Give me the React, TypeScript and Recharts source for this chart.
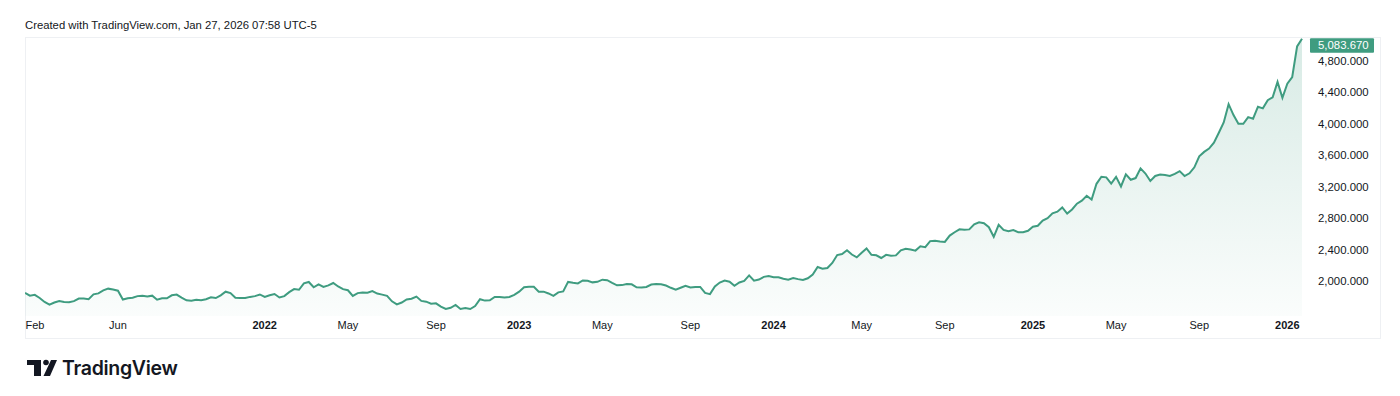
import { AreaChart, Area, XAxis, YAxis } from 'recharts';

// weekly closes, first bar = week of 2021-01-25
const START_WEEK = Date.UTC(2021, 0, 25);

const gold2021 = [
  1848, 1814, 1824, 1784, 1734, 1700, 1727, 1745, 1733, 1729, 1744, 1777, 1777, 1769, 1831, 1843,
  1881, 1903, 1891, 1877, 1764, 1781, 1787, 1808, 1812, 1802, 1814, 1763, 1780, 1781, 1818, 1827,
  1788, 1754, 1750, 1761, 1757, 1768, 1793, 1783, 1818, 1864, 1846, 1788, 1783, 1783, 1798, 1808,
  1829,
];
const gold2022 = [
  1797, 1818, 1835, 1791, 1808, 1859, 1898, 1889, 1970, 1988, 1921, 1958, 1925, 1945, 1975, 1931,
  1897, 1883, 1811, 1846, 1853, 1851, 1871, 1840, 1827, 1811, 1742, 1703, 1727, 1766, 1775, 1802,
  1747, 1737, 1712, 1716, 1675, 1644, 1660, 1695, 1644, 1657, 1644, 1681, 1769, 1751, 1754, 1797,
  1797, 1792, 1798, 1824,
];
const gold2023 = [
  1865, 1920, 1926, 1928, 1865, 1865, 1842, 1811, 1856, 1868, 1989, 1978, 1969, 2007, 2004, 1983,
  1990, 2017, 2011, 1977, 1946, 1948, 1961, 1958, 1921, 1919, 1925, 1955, 1962, 1959, 1943, 1914,
  1889, 1914, 1940, 1919, 1924, 1925, 1848, 1833, 1932, 1981, 2006, 1992, 1940, 1981, 2002, 2072,
  2004, 2019, 2053, 2063,
];
const gold2024 = [
  2049, 2049, 2029, 2018, 2039, 2024, 2013, 2035, 2083, 2179, 2156, 2165, 2230, 2330, 2344, 2392,
  2337, 2301, 2360, 2415, 2334, 2327, 2293, 2333, 2321, 2326, 2391, 2411, 2400, 2387, 2443, 2431,
  2508, 2512, 2503, 2497, 2578, 2621, 2658, 2653, 2657, 2721, 2747, 2736, 2685, 2563, 2716, 2650,
  2633, 2648, 2622, 2621, 2640,
];
const gold2025 = [
  2690, 2703, 2770, 2800, 2861, 2882, 2936, 2858, 2910, 2984, 3022, 3085, 3037, 3237, 3327, 3319,
  3240, 3325, 3203, 3357, 3289, 3310, 3433, 3368, 3273, 3337, 3355, 3350, 3336, 3363, 3398, 3336,
  3371, 3447, 3586, 3643, 3685, 3760, 3886, 4018, 4251, 4112, 4002, 4000, 4085, 4065, 4218, 4197,
  4300, 4338, 4533, 4332,
];
const gold2026 = [4510, 4596, 4985, 5083.67];

const monthTicks: [string, string][] = [
  ['2021-02-01', 'Feb'], ['2021-06-01', 'Jun'], ['2022-01-01', '2022'], ['2022-05-01', 'May'],
  ['2022-09-01', 'Sep'], ['2023-01-01', '2023'], ['2023-05-01', 'May'], ['2023-09-01', 'Sep'],
  ['2024-01-01', '2024'], ['2024-05-01', 'May'], ['2024-09-01', 'Sep'], ['2025-01-01', '2025'],
  ['2025-05-01', 'May'], ['2025-09-01', 'Sep'], ['2026-01-01', '2026'],
];
const priceTicks = [2000, 2400, 2800, 3200, 3600, 4000, 4400, 4800];

const closes = [...gold2021, ...gold2022, ...gold2023, ...gold2024, ...gold2025, ...gold2026];
const data = closes.map((v, i) => ({
  i,
  date: new Date(START_WEEK + i * 7 * 86400000).toISOString().slice(0, 10),
  v,
}));
const last = closes[closes.length - 1];

const xTicks = monthTicks.map(([d, label]) => ({ i: data.findIndex((r) => r.date >= d), label }));
const xLabel: Record<number, string> = {};
xTicks.forEach((t) => (xLabel[t.i] = t.label));

const GREEN = '#3f9c80';
const FONT = '"Liberation Sans", Arial, sans-serif';
const fmt = (n: number) =>
  n.toLocaleString('en-US', { minimumFractionDigits: 3, maximumFractionDigits: 3 });

function XTick({ x, y, payload }: any) {
  const label = xLabel[payload.value] ?? '';
  const bold = /^\d{4}$/.test(label);
  // keep the first label inside the pane, like TradingView does
  const cx = Math.max(x, 10);
  return (
    <text x={cx} y={y + 13} textAnchor="middle" fontSize={11} fontFamily={FONT}
      fontWeight={bold ? 700 : 400} fill="#131722">
      {label}
    </text>
  );
}

function YTick({ x, y, payload }: any) {
  if (payload.value === last) {
    return (
      <g>
        <rect x={x + 8} y={y - 0.5} width={64} height={14.5} rx={1} fill={GREEN} />
        <text x={x + 16} y={y + 10.5} fontSize={11.4} fontFamily={FONT} fill="#ffffff">
          {fmt(payload.value)}
        </text>
      </g>
    );
  }
  return (
    <text x={x + 16} y={y + 4} fontSize={11.4} fontFamily={FONT} fill="#131722">
      {fmt(payload.value)}
    </text>
  );
}

function Logo() {
  return (
    <div style={{ position: 'absolute', left: 27, top: 356, display: 'flex', alignItems: 'center' }}>
      <svg width={30} height={18} viewBox="0 0 30 18">
        <rect x={0} y={1} width={14} height={5} fill="#131722" />
        <rect x={7} y={1} width={7} height={16} fill="#131722" />
        <circle cx={19} cy={3.5} r={2.8} fill="#131722" />
        <polygon points="24,1 30,1 23,17 16.5,17" fill="#131722" />
      </svg>
      <span style={{ marginLeft: 5, fontFamily: 'Inter, sans-serif', fontWeight: 600, fontSize: 19.5,
        color: '#131722', letterSpacing: -0.3 }}>
        TradingView
      </span>
    </div>
  );
}

export default function App() {
  return (
    <div style={{ position: 'absolute', left: 0, top: 0, width: 1400, height: 396, background: '#fff' }}>
      <div style={{ position: 'absolute', left: 25, top: 19, fontFamily: FONT, fontSize: 11.3, color: '#131722' }}>
        Created with TradingView.com, Jan 27, 2026 07:58 UTC-5
      </div>
      <div style={{ position: 'absolute', left: 25, top: 37, width: 1354, height: 300,
        border: '1px solid #eef0f3', boxSizing: 'content-box' }} />
      <div style={{ position: 'absolute', left: 25, top: 37 }}>
        <AreaChart width={1355} height={301} data={data} margin={{ top: 0, right: 0, bottom: 0, left: 0 }}>
          <defs>
            <linearGradient id="goldFill" x1="0" y1="0" x2="0" y2="1">
              <stop offset="0%" stopColor={GREEN} stopOpacity={0.34} />
              <stop offset="100%" stopColor={GREEN} stopOpacity={0.04} />
            </linearGradient>
          </defs>
          <XAxis dataKey="i" type="number" domain={[0, closes.length - 1]} ticks={xTicks.map((t) => t.i)}
            interval={0} height={22} tickSize={0} tickMargin={0} axisLine={false} tickLine={false}
            tick={<XTick />} />
          <YAxis orientation="right" domain={[1555, 5105]} ticks={[...priceTicks, last]} interval={0}
            width={78} tickSize={0} tickMargin={0} axisLine={false} tickLine={false} tick={<YTick />} />
          <Area type="linear" dataKey="v" stroke={GREEN} strokeWidth={2} fill="url(#goldFill)"
            isAnimationActive={false} dot={false} activeDot={false} />
        </AreaChart>
      </div>
      <Logo />
    </div>
  );
}
